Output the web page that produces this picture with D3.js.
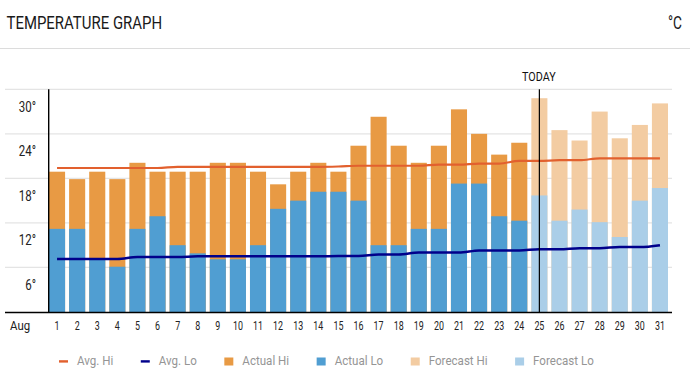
<!DOCTYPE html>
<html>
<head>
<meta charset="utf-8">
<script src="https://cdn.jsdelivr.net/npm/d3@7"></script>
<style>
  html, body { margin: 0; padding: 0; background: #fff; }
  svg text { font-family: Roboto, "Noto Sans", sans-serif; }
</style>
</head>
<body>
<svg id="chart" width="699" height="382"></svg>
<script>
// ---------- DATA ----------
const title = "TEMPERATURE GRAPH";
const unitLabel = "°C";
const monthLabel = "Aug";
const todayLabel = "TODAY";
const days = d3.range(1, 32);
const todayDay = 25;
const actualDays = d3.range(1, 25);
const forecastDays = d3.range(25, 32);
const actualHi = [18.9, 17.9, 18.9, 17.9, 20.1, 18.9, 18.9, 18.9, 20.1, 20.1, 18.9, 17.2,
                  18.9, 20.1, 18.9, 22.4, 26.3, 22.4, 20.1, 22.4, 27.3, 24.0, 21.2, 22.8];
const actualLo = [11.2, 11.2, 7.1, 6.1, 11.2, 12.9, 9.0, 7.9, 7.1, 7.1, 9.0, 13.9,
                  15.0, 16.2, 16.2, 15.0, 9.0, 9.0, 11.2, 11.2, 17.3, 17.3, 12.9, 12.3];
const forecastHi = [28.8, 24.5, 23.1, 27.0, 23.4, 25.2, 28.1];
const forecastLo = [15.7, 12.3, 13.8, 12.1, 10.1, 15.0, 16.7];
const avgHi = [19.4, 19.4, 19.4, 19.4, 19.4, 19.4, 19.55, 19.55, 19.55, 19.55, 19.55, 19.55,
               19.55, 19.55, 19.6, 19.7, 19.7, 19.7, 19.7, 19.85, 19.85, 20.0, 20.0, 20.35,
               20.35, 20.45, 20.45, 20.7, 20.7, 20.7, 20.7];
const avgLo = [7.15, 7.15, 7.15, 7.15, 7.4, 7.4, 7.4, 7.5, 7.5, 7.5, 7.5, 7.5, 7.5, 7.5,
               7.55, 7.55, 7.75, 7.75, 8.0, 8.0, 8.0, 8.3, 8.3, 8.3, 8.45, 8.45, 8.6, 8.6,
               8.75, 8.75, 9.0];
const yTicks = [6, 12, 18, 24, 30];
const legendItems = [
  { label: "Avg. Hi", type: "line", color: "#e2602e" },
  { label: "Avg. Lo", type: "line", color: "#00008b" },
  { label: "Actual Hi", type: "rect", color: "#e89a44" },
  { label: "Actual Lo", type: "rect", color: "#509ed2" },
  { label: "Forecast Hi", type: "rect", color: "#f3cca2" },
  { label: "Forecast Lo", type: "rect", color: "#aacee8" }
];

// ---------- HELPERS ----------
function condense(sel, factor) {
  sel.each(function () {
    const w = this.getComputedTextLength();
    d3.select(this).attr("textLength", w * factor).attr("lengthAdjust", "spacingAndGlyphs");
  });
}

// ---------- CHART ----------
const svg = d3.select("#chart");
const colors = {
  actualHi: "#e89a44", actualLo: "#509ed2",
  forecastHi: "#f3cca2", forecastLo: "#aacee8",
  avgHi: "#e2602e", avgLo: "#00008b"
};

const x = d3.scaleBand().domain(days).range([47, 670]).paddingInner(0.2).paddingOuter(0.1);
const y = d3.scaleLinear().domain([0, 30]).range([312, 89.3]);

// header
const t = svg.append("text").attr("x", 6.5).attr("y", 29.3)
  .attr("font-size", 17.7).attr("fill", "#1a1a1a").text(title);
t.attr("textLength", 155.6).attr("lengthAdjust", "spacingAndGlyphs");
svg.append("text").attr("x", 668).attr("y", 29.3)
  .attr("font-size", 17.7).attr("fill", "#1a1a1a").text(unitLabel)
  .attr("textLength", 14).attr("lengthAdjust", "spacingAndGlyphs");
svg.append("line").attr("x1", 0).attr("x2", 690).attr("y1", 48.5).attr("y2", 48.5)
  .attr("stroke", "#dcdcdc").attr("stroke-width", 1);

// gridlines
svg.append("g").selectAll("line").data(yTicks).join("line")
  .attr("x1", 5).attr("x2", 672)
  .attr("y1", d => y(d)).attr("y2", d => y(d))
  .attr("stroke", "#e4e4e4").attr("stroke-width", 1.2);

// y tick labels (sit below their gridline)
const yl = svg.append("g").selectAll("text").data(yTicks).join("text")
  .attr("x", 36).attr("y", d => y(d) + 22.4)
  .attr("text-anchor", "end").attr("font-size", 14).attr("fill", "#222")
  .text(d => d + "°");
condense(yl, 0.82);

// bars
const actual = actualDays.map((d, i) => ({ day: d, hi: actualHi[i], lo: actualLo[i] }));
const forecast = forecastDays.map((d, i) => ({ day: d, hi: forecastHi[i], lo: forecastLo[i] }));
const bars = svg.append("g");
function drawBars(data, hiColor, loColor) {
  bars.append("g").selectAll("rect").data(data).join("rect")
    .attr("x", d => x(d.day)).attr("width", x.bandwidth())
    .attr("y", d => y(d.hi)).attr("height", d => y(0) - y(d.hi))
    .attr("fill", hiColor);
  bars.append("g").selectAll("rect").data(data).join("rect")
    .attr("x", d => x(d.day)).attr("width", x.bandwidth())
    .attr("y", d => y(d.lo)).attr("height", d => y(0) - y(d.lo))
    .attr("fill", loColor);
}
drawBars(actual, colors.actualHi, colors.actualLo);
drawBars(forecast, colors.forecastHi, colors.forecastLo);

// average lines
const line = d3.line()
  .x((d, i) => x(days[i]) + x.bandwidth() / 2)
  .y(d => y(d))
  .curve(d3.curveMonotoneX);
svg.append("path").datum(avgHi).attr("d", line)
  .attr("fill", "none").attr("stroke", colors.avgHi).attr("stroke-width", 2.2);
svg.append("path").datum(avgLo).attr("d", line)
  .attr("fill", "none").attr("stroke", colors.avgLo).attr("stroke-width", 2.5);

// today marker
const tx = x(todayDay) + x.bandwidth() / 2;
svg.append("line").attr("x1", tx).attr("x2", tx).attr("y1", y(30)).attr("y2", y(0))
  .attr("stroke", "#000").attr("stroke-width", 1.2);
const tl = svg.append("text").attr("x", tx - 0.5).attr("y", 80.7)
  .attr("text-anchor", "middle").attr("font-size", 13.6).attr("fill", "#111")
  .text(todayLabel);
condense(tl, 0.79);

// axes lines
svg.append("line").attr("x1", 48.7).attr("x2", 48.7).attr("y1", y(30)).attr("y2", y(0))
  .attr("stroke", "#000").attr("stroke-width", 1.4);
svg.append("line").attr("x1", 5).attr("x2", 672).attr("y1", y(0) + 0.5).attr("y2", y(0) + 0.5)
  .attr("stroke", "#000").attr("stroke-width", 1.3);

// x labels
const xl = svg.append("g").selectAll("text").data(days).join("text")
  .attr("x", d => x(d) + x.bandwidth() / 2).attr("y", 330)
  .attr("text-anchor", "middle").attr("font-size", 12).attr("fill", "#222")
  .text(d => d);
condense(xl, 0.74);
const ml = svg.append("text").attr("x", 10).attr("y", 330)
  .attr("font-size", 12).attr("fill", "#222").text(monthLabel);
condense(ml, 0.95);

// legend
const lg = svg.append("g");
let cx = 59;
legendItems.forEach(item => {
  if (item.type === "line") {
    lg.append("rect").attr("x", cx).attr("y", 360.2).attr("width", 9).attr("height", 2.4)
      .attr("fill", item.color);
  } else {
    lg.append("rect").attr("x", cx).attr("y", 357.5).attr("width", 9).attr("height", 8)
      .attr("fill", item.color);
  }
  const txt = lg.append("text").attr("x", cx + 18).attr("y", 365.3)
    .attr("font-size", 13).attr("fill", "#959595").text(item.label);
  condense(txt, 0.89);
  cx += 18 + txt.node().getComputedTextLength() + 27.5;
});
</script>
</body>
</html>
